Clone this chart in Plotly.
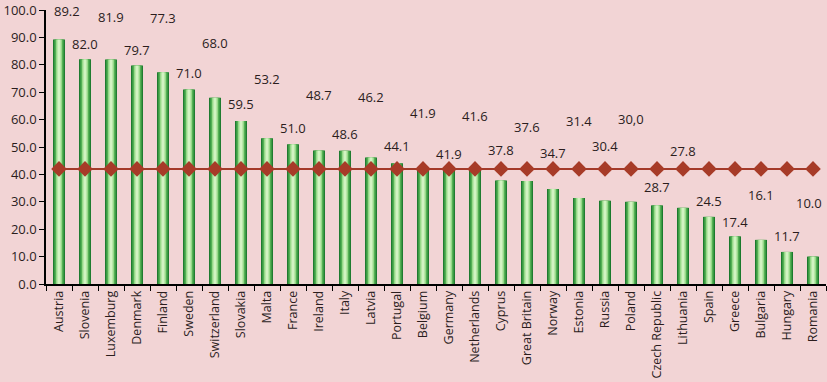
import plotly.graph_objects as go

countries = ["Austria", "Slovenia", "Luxemburg", "Denmark", "Finland", "Sweden", "Switzerland",
             "Slovakia", "Malta", "France", "Ireland", "Italy", "Latvia", "Portugal", "Belgium",
             "Germany", "Netherlands", "Cyprus", "Great Britain", "Norway", "Estonia", "Russia",
             "Poland", "Czech Republic", "Lithuania", "Spain", "Greece", "Bulgaria", "Hungary", "Romania"]
values = [89.2, 82.0, 81.9, 79.7, 77.3, 71.0, 68.0, 59.5, 53.2, 51.0, 48.7, 48.6, 46.2, 44.1, 41.9,
          41.9, 41.6, 37.8, 37.6, 34.7, 31.4, 30.4, 30.0, 28.7, 27.8, 24.5, 17.4, 16.1, 11.7, 10.0]
value_labels = ["89.2", "82.0", "81.9", "79.7", "77.3", "71.0", "68.0", "59.5", "53.2", "51.0",
                "48.7", "48.6", "46.2", "44.1", "41.9", "41.9", "41.6", "37.8", "37.6", "34.7",
                "31.4", "30.4", "30,0", "28.7", "27.8", "24.5", "17.4", "16.1", "11.7", "10.0"]
average = [42.0, 42.0, 42.0, 42.0, 42.0, 42.0, 42.0, 42.0, 42.0, 42.0, 42.0, 42.0, 42.0, 42.0, 42.0,
           42.0, 42.0, 42.0, 42.0, 42.0, 42.0, 42.0, 42.0, 42.0, 42.0, 42.0, 42.0, 42.0, 42.0, 42.0]
y_ticks = [0, 10, 20, 30, 40, 50, 60, 70, 80, 90, 100]

# style: pixel offsets of value labels above bar tops
label_shift = [29, 15, 43, 16, 54, 16, 55, 17, 59, 16, 56, 17, 60, 17, 56,
               15, 54, 30, 54, 36, 77, 55, 83, 18, 57, 16, 14, 45, 16, 54]
label_xshift = [8] + [0] * 28 + [-4]

BG = "#f2d4d5"
FONT = "Open Sans"
TXT = "#2b1d1d"

fig = go.Figure()
layers = [(0.46, "#1b7a2d"), (0.36, "#4caa4f"), (0.24, "#96d888"), (0.12, "#d2f3c2")]
for w, c in layers:
    fig.add_trace(go.Bar(x=countries, y=values, width=w, marker=dict(color=c, line=dict(width=0)),
                         showlegend=False, hoverinfo="skip"))
fig.add_trace(go.Scatter(x=countries, y=average, mode="lines+markers",
                         line=dict(color="#a43a2a", width=2),
                         marker=dict(symbol="diamond", size=12, color="#a73b28"),
                         showlegend=False, cliponaxis=False))

for c, v, t, s, xs in zip(countries, values, value_labels, label_shift, label_xshift):
    fig.add_annotation(x=c, y=v, text=t, showarrow=False, yshift=s, xshift=xs,
                       yanchor="middle", borderpad=0,
                       font=dict(family=FONT, size=13, color=TXT))

fig.update_layout(
    width=827, height=382,
    margin=dict(l=46, r=1, t=8, b=98),
    paper_bgcolor=BG, plot_bgcolor=BG,
    barmode="overlay",
    font=dict(family=FONT, size=13, color=TXT),
)
fig.update_xaxes(showline=True, linecolor="black", linewidth=1.5, tickangle=-90,
                 ticks="outside", ticklen=5, tickcolor="black", tickson="boundaries",
                 showgrid=False, range=[-0.5, 29.5], tickfont=dict(size=12.5))
fig.update_yaxes(showline=True, linecolor="black", linewidth=1.5, range=[0, 100],
                 tickvals=y_ticks, tickformat=".1f", ticks="outside", ticklen=5,
                 tickcolor="black", showgrid=False, zeroline=False, tickfont=dict(size=13),
                 ticklabeloverflow="allow")

fig.write_html("out.html", config={"displayModeBar": False})
with open("out.html", "r", encoding="utf-8") as f:
    html = f.read()
html = html.replace("<head>", "<head><style>html,body{margin:0;padding:0;overflow:hidden;background:%s;}</style>" % BG, 1)
with open("out.html", "w", encoding="utf-8") as f:
    f.write(html)
